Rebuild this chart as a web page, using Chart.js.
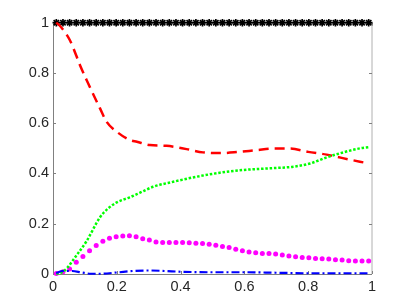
<!DOCTYPE html>
<html>
<head>
<meta charset="utf-8">
<script src="https://cdn.jsdelivr.net/npm/chart.js@4/dist/chart.umd.min.js"></script>
<style>
html,body{margin:0;padding:0;background:#fff;}
#wrap{width:411px;height:308px;}
</style>
</head>
<body>
<div id="wrap"><canvas id="c" width="411" height="308"></canvas></div>
<script>
// Bin centres (48 bins on [0,1])
const binX = Array.from({length:48}, (_, k) => (k + 0.5) / 48);
const starY = new Array(48).fill(1);
const magentaY = [0.002,0.009,0.02,0.047,0.07,0.093,0.113,0.13,0.142,0.148,0.151,0.152,
  0.148,0.14,0.135,0.127,0.125,0.125,0.125,0.125,0.124,0.122,0.121,0.118,
  0.114,0.109,0.105,0.098,0.093,0.088,0.085,0.082,0.082,0.08,0.076,0.072,
  0.069,0.066,0.065,0.062,0.061,0.06,0.057,0.056,0.053,0.052,0.052,0.052];

const redX = [0.01,0.02,0.053,0.085,0.106,0.147,0.168,0.2,0.241,0.263,0.304,0.356,0.419,0.47,0.523,0.576,0.639,0.69,0.743,0.8,0.858,0.905,0.962,0.99];
const redY = [1,0.99,0.93,0.83,0.77,0.66,0.606,0.566,0.533,0.526,0.513,0.51,0.497,0.484,0.481,0.485,0.493,0.499,0.499,0.486,0.475,0.462,0.447,0.44];

const greenX = [0.01,0.03,0.045,0.06,0.08,0.105,0.147,0.173,0.2,0.24,0.267,0.314,0.377,0.45,0.523,0.597,0.67,0.753,0.806,0.858,0.91,0.962,0.99];
const greenY = [0,0.008,0.025,0.05,0.085,0.13,0.225,0.261,0.285,0.305,0.32,0.347,0.367,0.387,0.403,0.414,0.42,0.427,0.44,0.464,0.484,0.5,0.505];

const blueX = [0.01,0.03,0.06,0.09,0.12,0.15,0.2,0.25,0.3,0.35,0.4,0.5,0.6,0.7,0.8,0.9,0.99];
const blueY = [0.004,0.012,0.012,0.006,0.001,0.001,0.006,0.012,0.014,0.012,0.009,0.007,0.007,0.005,0.003,0.003,0.003];

const xTicks = [0,0.2,0.4,0.6,0.8,1];
const yTicks = [0,0.2,0.4,0.6,0.8,1];

const pts = (xs, ys) => xs.map((x, i) => ({x: x, y: ys[i]}));
const fmt = v => String(Math.round(v * 10) / 10);

const boxPlugin = {
  id: 'box',
  beforeDatasetsDraw(chart) {
    const {ctx, chartArea: a, scales} = chart;
    ctx.save();
    ctx.strokeStyle = '#808080';
    ctx.lineWidth = 1;
    ctx.beginPath();
    ctx.moveTo(Math.floor(a.left) + 0.5, a.top);
    ctx.lineTo(Math.floor(a.left) + 0.5, a.bottom);
    ctx.moveTo(a.left, Math.floor(a.bottom) + 0.5);
    ctx.lineTo(a.right, Math.floor(a.bottom) + 0.5);
    ctx.moveTo(a.left, a.top);
    ctx.lineTo(a.right, a.top);
    ctx.stroke();
    ctx.strokeStyle = '#b0b0b0';
    ctx.beginPath();
    ctx.moveTo(a.right, a.top);
    ctx.lineTo(a.right, a.bottom);
    ctx.stroke();
    ctx.strokeStyle = '#808080';
    ctx.beginPath();
    const L = 3;
    yTicks.forEach(v => {
      const y = Math.round(scales.y.getPixelForValue(v)) + 0.5;
      ctx.moveTo(a.left, y); ctx.lineTo(a.left + L, y);
      ctx.moveTo(a.right, y); ctx.lineTo(a.right - L, y);
    });
    xTicks.forEach(v => {
      const x = Math.round(scales.x.getPixelForValue(v)) + 0.5;
      ctx.moveTo(x, a.bottom); ctx.lineTo(x, a.bottom - L);
      ctx.moveTo(x, a.top); ctx.lineTo(x, a.top + L);
    });
    ctx.stroke();
    ctx.restore();
  }
};

new Chart(document.getElementById('c'), {
  type: 'scatter',
  data: {
    datasets: [
      {
        data: pts(blueX, blueY), showLine: true, borderColor: '#0000ff', borderWidth: 2.2,
        borderDash: [8,3,2,3], pointRadius: 0, cubicInterpolationMode: 'monotone', clip: false
      },
      {
        data: pts(greenX, greenY), showLine: true, borderColor: '#00ff00', borderWidth: 2.5,
        borderDash: [2.5,1.8], pointRadius: 0, cubicInterpolationMode: 'monotone', clip: false
      },
      {
        data: pts(redX, redY), showLine: true, borderColor: '#ff0000', borderWidth: 2.5,
        borderDash: [10,6], pointRadius: 0, cubicInterpolationMode: 'monotone', clip: false
      },
      {
        data: pts(binX, magentaY), showLine: false, pointRadius: 2.5, pointStyle: 'circle',
        backgroundColor: '#ff00ff', borderColor: '#ff00ff', borderWidth: 0, clip: false
      },
      {
        data: pts(binX, starY), showLine: false, pointRadius: 3.8, pointStyle: 'star',
        backgroundColor: '#000', borderColor: '#000', borderWidth: 1.7, clip: false
      }
    ]
  },
  options: {
    responsive: false,
    animation: false,
    events: [],
    layout: {padding: {top: 22.7, right: 39, left: 0, bottom: 0}},
    plugins: {legend: {display: false}, tooltip: {enabled: false}},
    scales: {
      x: {
        type: 'linear', min: 0, max: 1,
        grid: {display: false, drawTicks: false, tickLength: 0}, border: {display: false},
        afterBuildTicks: s => { s.ticks = xTicks.map(v => ({value: v})); },
        afterFit: s => { s.height = 34; },
        ticks: {color: '#262626', padding: 4, maxRotation: 0, callback: fmt,
          font: {family: 'Liberation Sans', size: 14.5}}
      },
      y: {
        type: 'linear', min: 0, max: 1,
        grid: {display: false, drawTicks: false, tickLength: 0}, border: {display: false},
        afterBuildTicks: s => { s.ticks = yTicks.map(v => ({value: v})); },
        afterFit: s => { s.width = 53; },
        ticks: {color: '#262626', padding: 4, callback: fmt,
          font: {family: 'Liberation Sans', size: 14.5}}
      }
    }
  },
  plugins: [boxPlugin]
});
</script>
</body>
</html>
